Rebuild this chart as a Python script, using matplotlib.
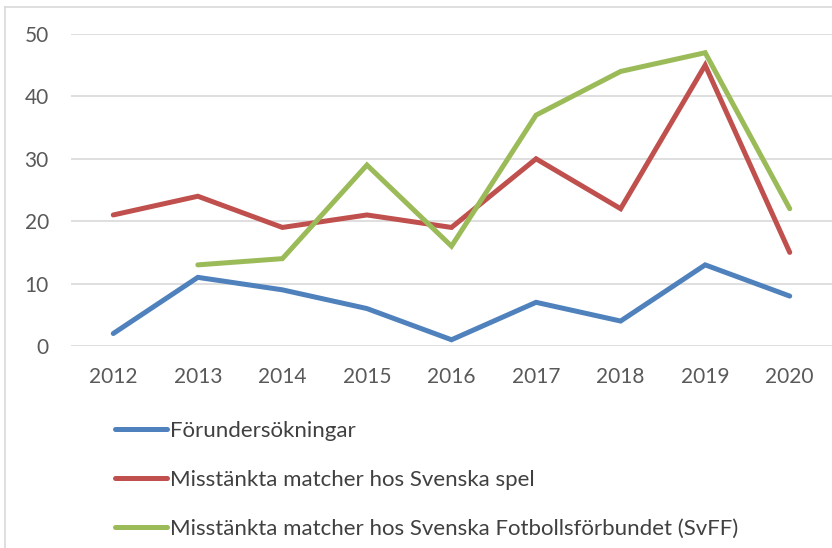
import matplotlib
matplotlib.use("Agg")
import matplotlib.pyplot as plt
import numpy as np
from matplotlib.lines import Line2D

years = ["2012", "2013", "2014", "2015", "2016", "2017", "2018", "2019", "2020"]
forundersokningar = [2, 11, 9, 6, 1, 7, 4, 13, 8]
svenska_spel = [21, 24, 19, 21, 19, 30, 22, 45, 15]
svff = [np.nan, 13, 14, 29, 16, 37, 44, 47, 22]

labels = ["Förundersökningar",
          "Misstänkta matcher hos Svenska spel",
          "Misstänkta matcher hos Svenska Fotbollsförbundet (SvFF)"]
colors = ["#4F81BD", "#C0504D", "#9BBB59"]

plt.rcParams['font.family'] = ['Lato', 'DejaVu Sans']

W, H = 832, 548
fig = plt.figure(figsize=(W / 100, H / 100), dpi=100)
ax = fig.add_axes([71 / W, 1 - 346 / H, 1 - 71 / W, (346 - 34) / H])

x = np.arange(len(years))
for vals, c, lab in zip([forundersokningar, svenska_spel, svff], colors, labels):
    ax.plot(x, vals, color=c, lw=3.6, solid_capstyle='round',
            solid_joinstyle='miter', label=lab, zorder=3)

ax.set_xlim(-0.5, len(years) - 0.5)
ax.set_ylim(0, 50)
ax.set_yticks([0, 10, 20, 30, 40, 50])
ax.set_xticks(x)
ax.set_xticklabels(years)
ax.grid(axis='y', color='#D9D9D9', lw=1.2, zorder=0)
ax.set_axisbelow(True)
for s in ax.spines.values():
    s.set_visible(False)
ax.tick_params(axis='both', length=0, labelsize=15, colors='#595959')
ax.tick_params(axis='x', pad=15)
ax.tick_params(axis='y', pad=16)

handles = [Line2D([0], [0], color=c, lw=3.6, solid_capstyle='round') for c in colors]
leg = fig.legend(handles, labels, loc='upper left',
                 bbox_to_anchor=(115 / W, 1 - 421 / H), frameon=False,
                 fontsize=16, handlelength=2.35, handletextpad=0.12,
                 labelspacing=1.3, borderpad=0, borderaxespad=0)
for t in leg.get_texts():
    t.set_color('#404040')

# chart border (cropped on right/bottom)
fig.add_artist(Line2D([5 / W, 5 / W], [0, 1 - 7 / H], transform=fig.transFigure,
                      color='#D9D9D9', lw=1.2))
fig.add_artist(Line2D([5 / W, 1], [1 - 7 / H, 1 - 7 / H], transform=fig.transFigure,
                      color='#D9D9D9', lw=1.2))

fig.savefig("out.png", dpi=100)
